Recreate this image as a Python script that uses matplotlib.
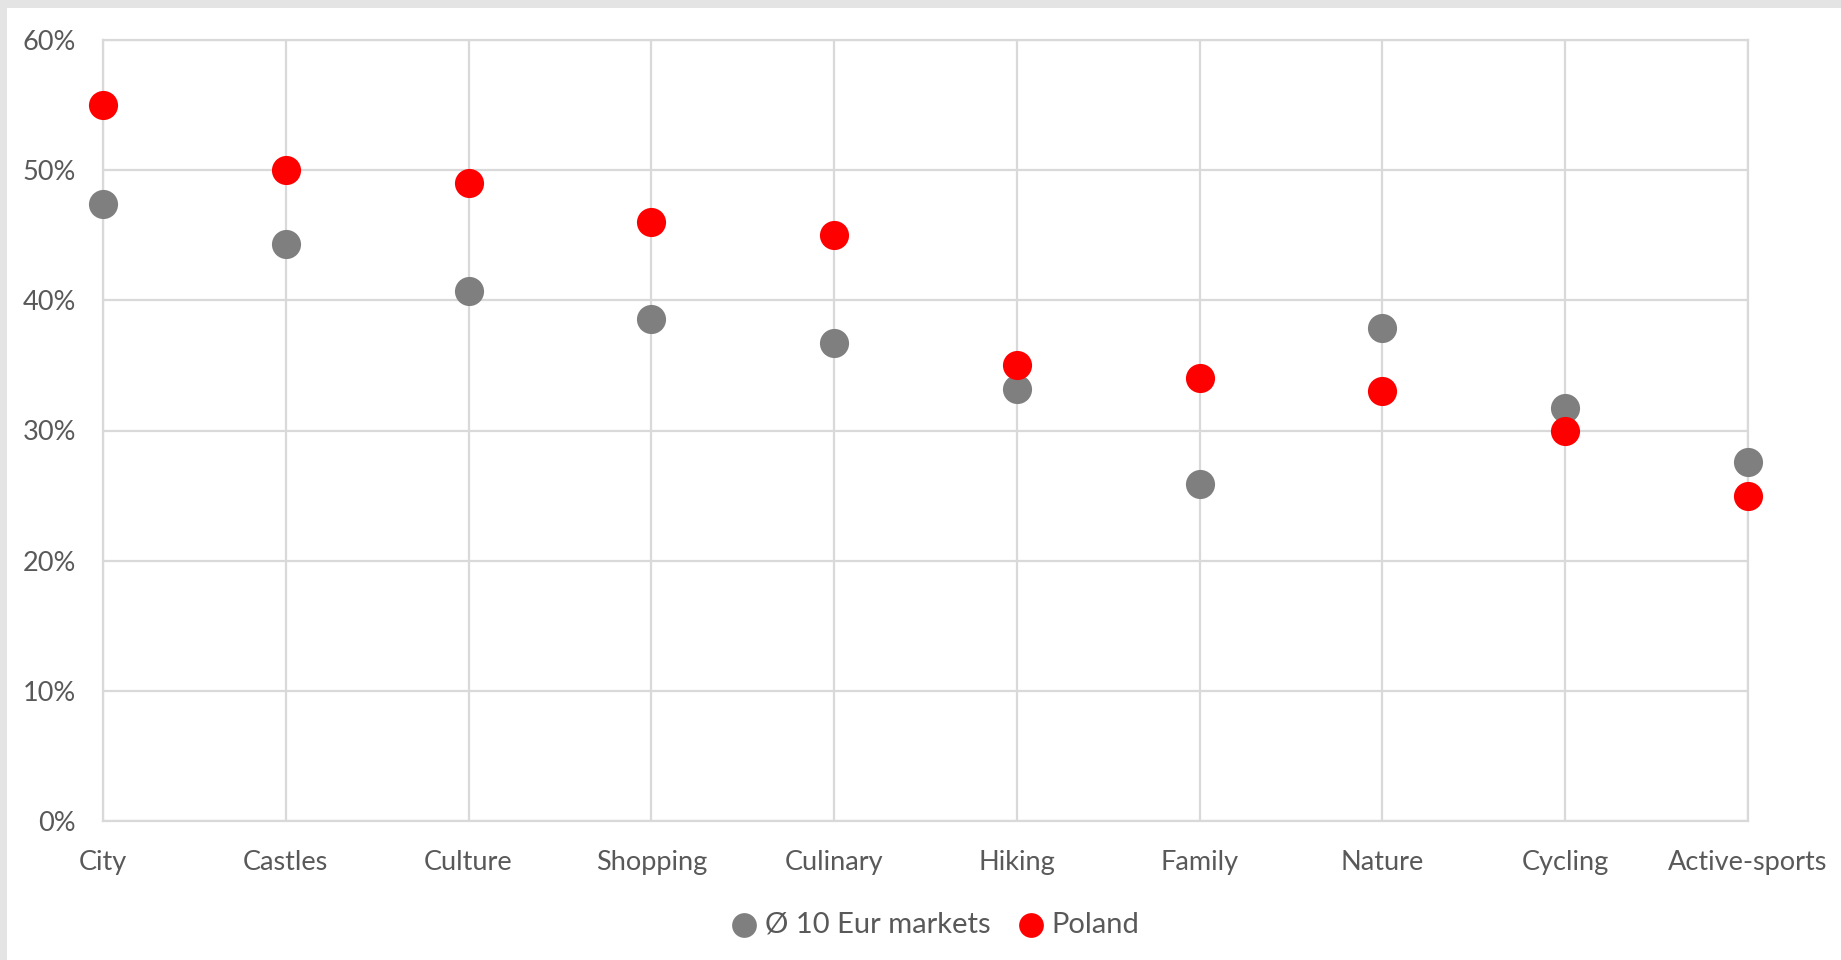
import matplotlib
matplotlib.use("Agg")
import matplotlib.pyplot as plt
from matplotlib.ticker import PercentFormatter
from matplotlib.patches import Rectangle

categories = ["City", "Castles", "Culture", "Shopping", "Culinary",
              "Hiking", "Family", "Nature", "Cycling", "Active-sports"]
eur_markets = [0.474, 0.443, 0.407, 0.386, 0.367, 0.332, 0.259, 0.379, 0.317, 0.276]
poland = [0.55, 0.50, 0.49, 0.46, 0.45, 0.35, 0.34, 0.33, 0.30, 0.25]
y_ticks = [0, 0.1, 0.2, 0.3, 0.4, 0.5, 0.6]

text_col = "#595959"
grid_col = "#d9d9d9"

plt.rcParams["font.family"] = ["Lato", "DejaVu Sans"]

fig = plt.figure(figsize=(18.41, 9.6), dpi=100)
W, H = 1841, 960
# light gray frame on top and left, like the screenshot
fig.patches.append(Rectangle((0, 0), 1, 1, transform=fig.transFigure,
                             facecolor="#e4e4e4", zorder=-10))
fig.patches.append(Rectangle((7 / W, 0), 1, 1 - 8 / H, transform=fig.transFigure,
                             facecolor="white", zorder=-9))

ax = fig.add_axes([103 / W, 1 - 821 / H, (1748 - 103) / W, (821 - 40) / H])
x = range(len(categories))

ax.scatter(x, eur_markets, s=440, color="#7f7f7f", label="Ø 10 Eur markets",
           zorder=3, linewidths=0, clip_on=False)
ax.scatter(x, poland, s=440, color="#ff0000", label="Poland",
           zorder=4, linewidths=0, clip_on=False)

ax.set_xlim(0, len(categories) - 1)
ax.set_ylim(0, 0.6)
ax.set_xticks(list(x))
ax.set_xticklabels(categories)
ax.set_yticks(y_ticks)
ax.yaxis.set_major_formatter(PercentFormatter(1.0, decimals=0))

ax.grid(True, color=grid_col, linewidth=1.6, zorder=0)
ax.set_axisbelow(True)
for s in ax.spines.values():
    s.set_color(grid_col)
    s.set_linewidth(1.6)
ax.tick_params(axis="both", length=0, labelsize=19.5, labelcolor=text_col)
ax.tick_params(axis="y", pad=19.5)
ax.tick_params(axis="x", pad=21)

fig.legend(loc="center", bbox_to_anchor=(936 / W, 1 - 925 / H), ncol=2,
           frameon=False, fontsize=21, labelcolor=text_col,
           handlelength=0.8, handletextpad=0.3, columnspacing=1.0,
           markerscale=0.85, borderaxespad=0)

fig.savefig("out.png", dpi=100)
